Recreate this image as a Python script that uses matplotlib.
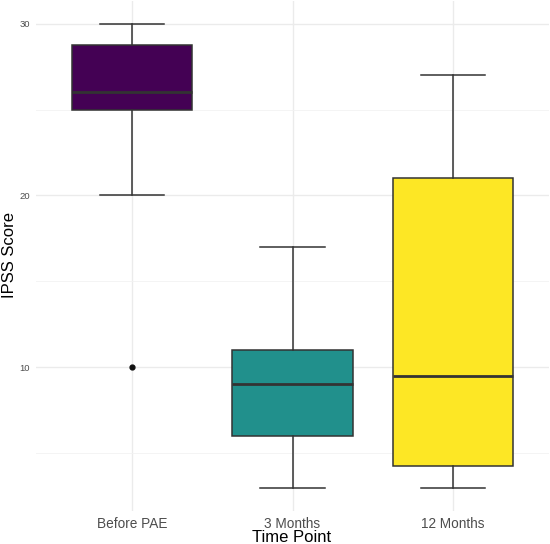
import matplotlib
matplotlib.use("Agg")
import matplotlib.pyplot as plt
from matplotlib.ticker import MultipleLocator

plt.rcParams['font.family'] = ['Liberation Sans', 'DejaVu Sans']

categories = ["Before PAE", "3 Months", "12 Months"]
whisker_low = [20, 3, 3]
q1 = [25, 6, 4.25]
median = [26, 9, 9.5]
q3 = [28.75, 11, 21]
whisker_high = [30, 17, 27]
outliers = [[10], [], []]
colors = ["#440154", "#21908C", "#FDE725"]

W, H = 550, 544
fig = plt.figure(figsize=(W / 100, H / 100), dpi=100)
# panel: left 36px, right 549px, top 0.5px, bottom 510.7px
ax = fig.add_axes([36 / W, (H - 510.7) / H, 513 / W, 510.2 / H])

stats = []
for i, c in enumerate(categories):
    stats.append(dict(label=c, whislo=whisker_low[i], q1=q1[i], med=median[i],
                      q3=q3[i], whishi=whisker_high[i], fliers=outliers[i]))

edge = "#333333"
bp = ax.bxp(stats, positions=[1, 2, 3], widths=0.75, patch_artist=True,
            showfliers=True,
            boxprops=dict(edgecolor=edge, linewidth=1.1),
            medianprops=dict(color=edge, linewidth=2.0, solid_capstyle="butt"),
            whiskerprops=dict(color=edge, linewidth=1.1),
            capprops=dict(color=edge, linewidth=1.1),
            flierprops=dict(marker="o", markerfacecolor="#111111",
                            markeredgecolor="#111111", markersize=3.5))
for patch, col in zip(bp['boxes'], colors):
    patch.set_facecolor(col)
for cap in bp['caps']:
    x = cap.get_xdata()
    m = (x[0] + x[1]) / 2
    cap.set_xdata([m - 0.2, m + 0.2])

ax.set_xlim(0.4, 3.6)
ax.set_ylim(1.65, 31.35)
ax.yaxis.set_major_locator(MultipleLocator(10))
ax.yaxis.set_minor_locator(MultipleLocator(5))
ax.grid(True, which="major", color="#ebebeb", linewidth=1.0)
ax.grid(True, which="minor", axis="y", color="#f2f2f2", linewidth=0.6)
ax.set_axisbelow(True)
for s in ax.spines.values():
    s.set_visible(False)
ax.tick_params(axis="both", which="both", length=0)
ax.tick_params(axis="y", labelsize=6.8, labelcolor="#4d4d4d", pad=4.3)
ax.tick_params(axis="x", labelsize=9.8, labelcolor="#4d4d4d", pad=4.5)
ax.set_xticks([1, 2, 3])
ax.set_xticklabels(categories)

ax.set_xlabel("Time Point", fontsize=12, color="black")
ax.xaxis.label.set_va("baseline")
ax.xaxis.set_label_coords(292 / W, (H - 542) / H, transform=fig.transFigure)
ax.set_ylabel("IPSS Score", fontsize=12, color="black")
ax.yaxis.label.set_va("center")
ax.yaxis.set_label_coords(9.5 / W, (H - 255) / H, transform=fig.transFigure)

fig.savefig("out.png", dpi=100, facecolor="white")
